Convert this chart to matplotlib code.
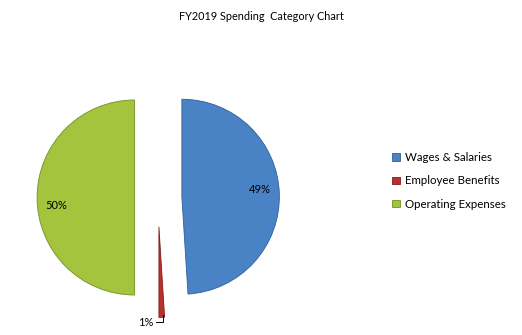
#!/usr/bin/env python3
"""FY2019 spending category pie chart."""

import matplotlib
matplotlib.use("Agg")
import matplotlib.pyplot as plt
import numpy as np

categories = ["Wages & Salaries", "Employee Benefits", "Operating Expenses"]
shares = [49, 1, 50]
colors = ["#4a82c6", "#b8312f", "#a3c43c"]
edges = ["#2f5f98", "#7e1e1c", "#738f22"]
explode = [0.245, 0.30, 0.24]

plt.rcParams["font.family"] = ["Lato", "DejaVu Sans"]

W, H = 522, 335
fig = plt.figure(figsize=(W / 100, H / 100), dpi=100)

# pie centre (158, 197.5) px from top-left, radius 97.5 px
R = 97.5
cx, cy = 158, H - 197.5
ax = fig.add_axes([0, 0, 2 * cx / W, 2 * cy / H])

wedges, texts, autotexts = ax.pie(
    shares,
    colors=colors,
    explode=explode,
    startangle=90,
    counterclock=False,
    radius=1.0,
    autopct="%1.0f%%",
    pctdistance=0.8,
    textprops={"fontsize": 8, "color": "black"},
    wedgeprops={"linewidth": 0.6},
)
for w, ec in zip(wedges, edges):
    w.set_edgecolor(ec)

ax.set_xlim(-cx / R, cx / R)
ax.set_ylim(-cy / R, cy / R)
ax.set_aspect("auto")
ax.axis("off")

# nudge the big labels the way the original sits them
x0, y0 = autotexts[0].get_position()
autotexts[0].set_position((x0, y0 + 0.05))
x2, y2 = autotexts[2].get_position()
autotexts[2].set_position((x2, y2 - 0.08))

# small slice: slightly shorter, label outside with elbow leader
red = wedges[1]
red.set_radius(0.93)
mid = np.deg2rad((red.theta1 + red.theta2) / 2)
ax_x = red.center[0] + 0.97 * red.r * np.cos(mid) + 0.01
ax_y = red.center[1] + 0.97 * red.r * np.sin(mid)
lab_y = ax_y - 0.08
ax.plot([ax_x, ax_x, ax_x - 0.07], [ax_y, lab_y, lab_y], color="black", lw=0.7)
autotexts[1].set_position((ax_x - 0.09, lab_y))
autotexts[1].set_ha("right")
autotexts[1].set_va("center")

fig.text(0.5, 1 - 17 / H, "FY2019 Spending  Category Chart", ha="center", va="center",
         fontsize=7.8)

fig.legend(
    wedges,
    categories,
    loc="center left",
    bbox_to_anchor=(382 / W, 1 - 181 / H),
    frameon=False,
    fontsize=8.3,
    handlelength=0.65,
    handleheight=0.65,
    handletextpad=0.45,
    labelspacing=1.05,
)

fig.savefig("out.png", dpi=100)
